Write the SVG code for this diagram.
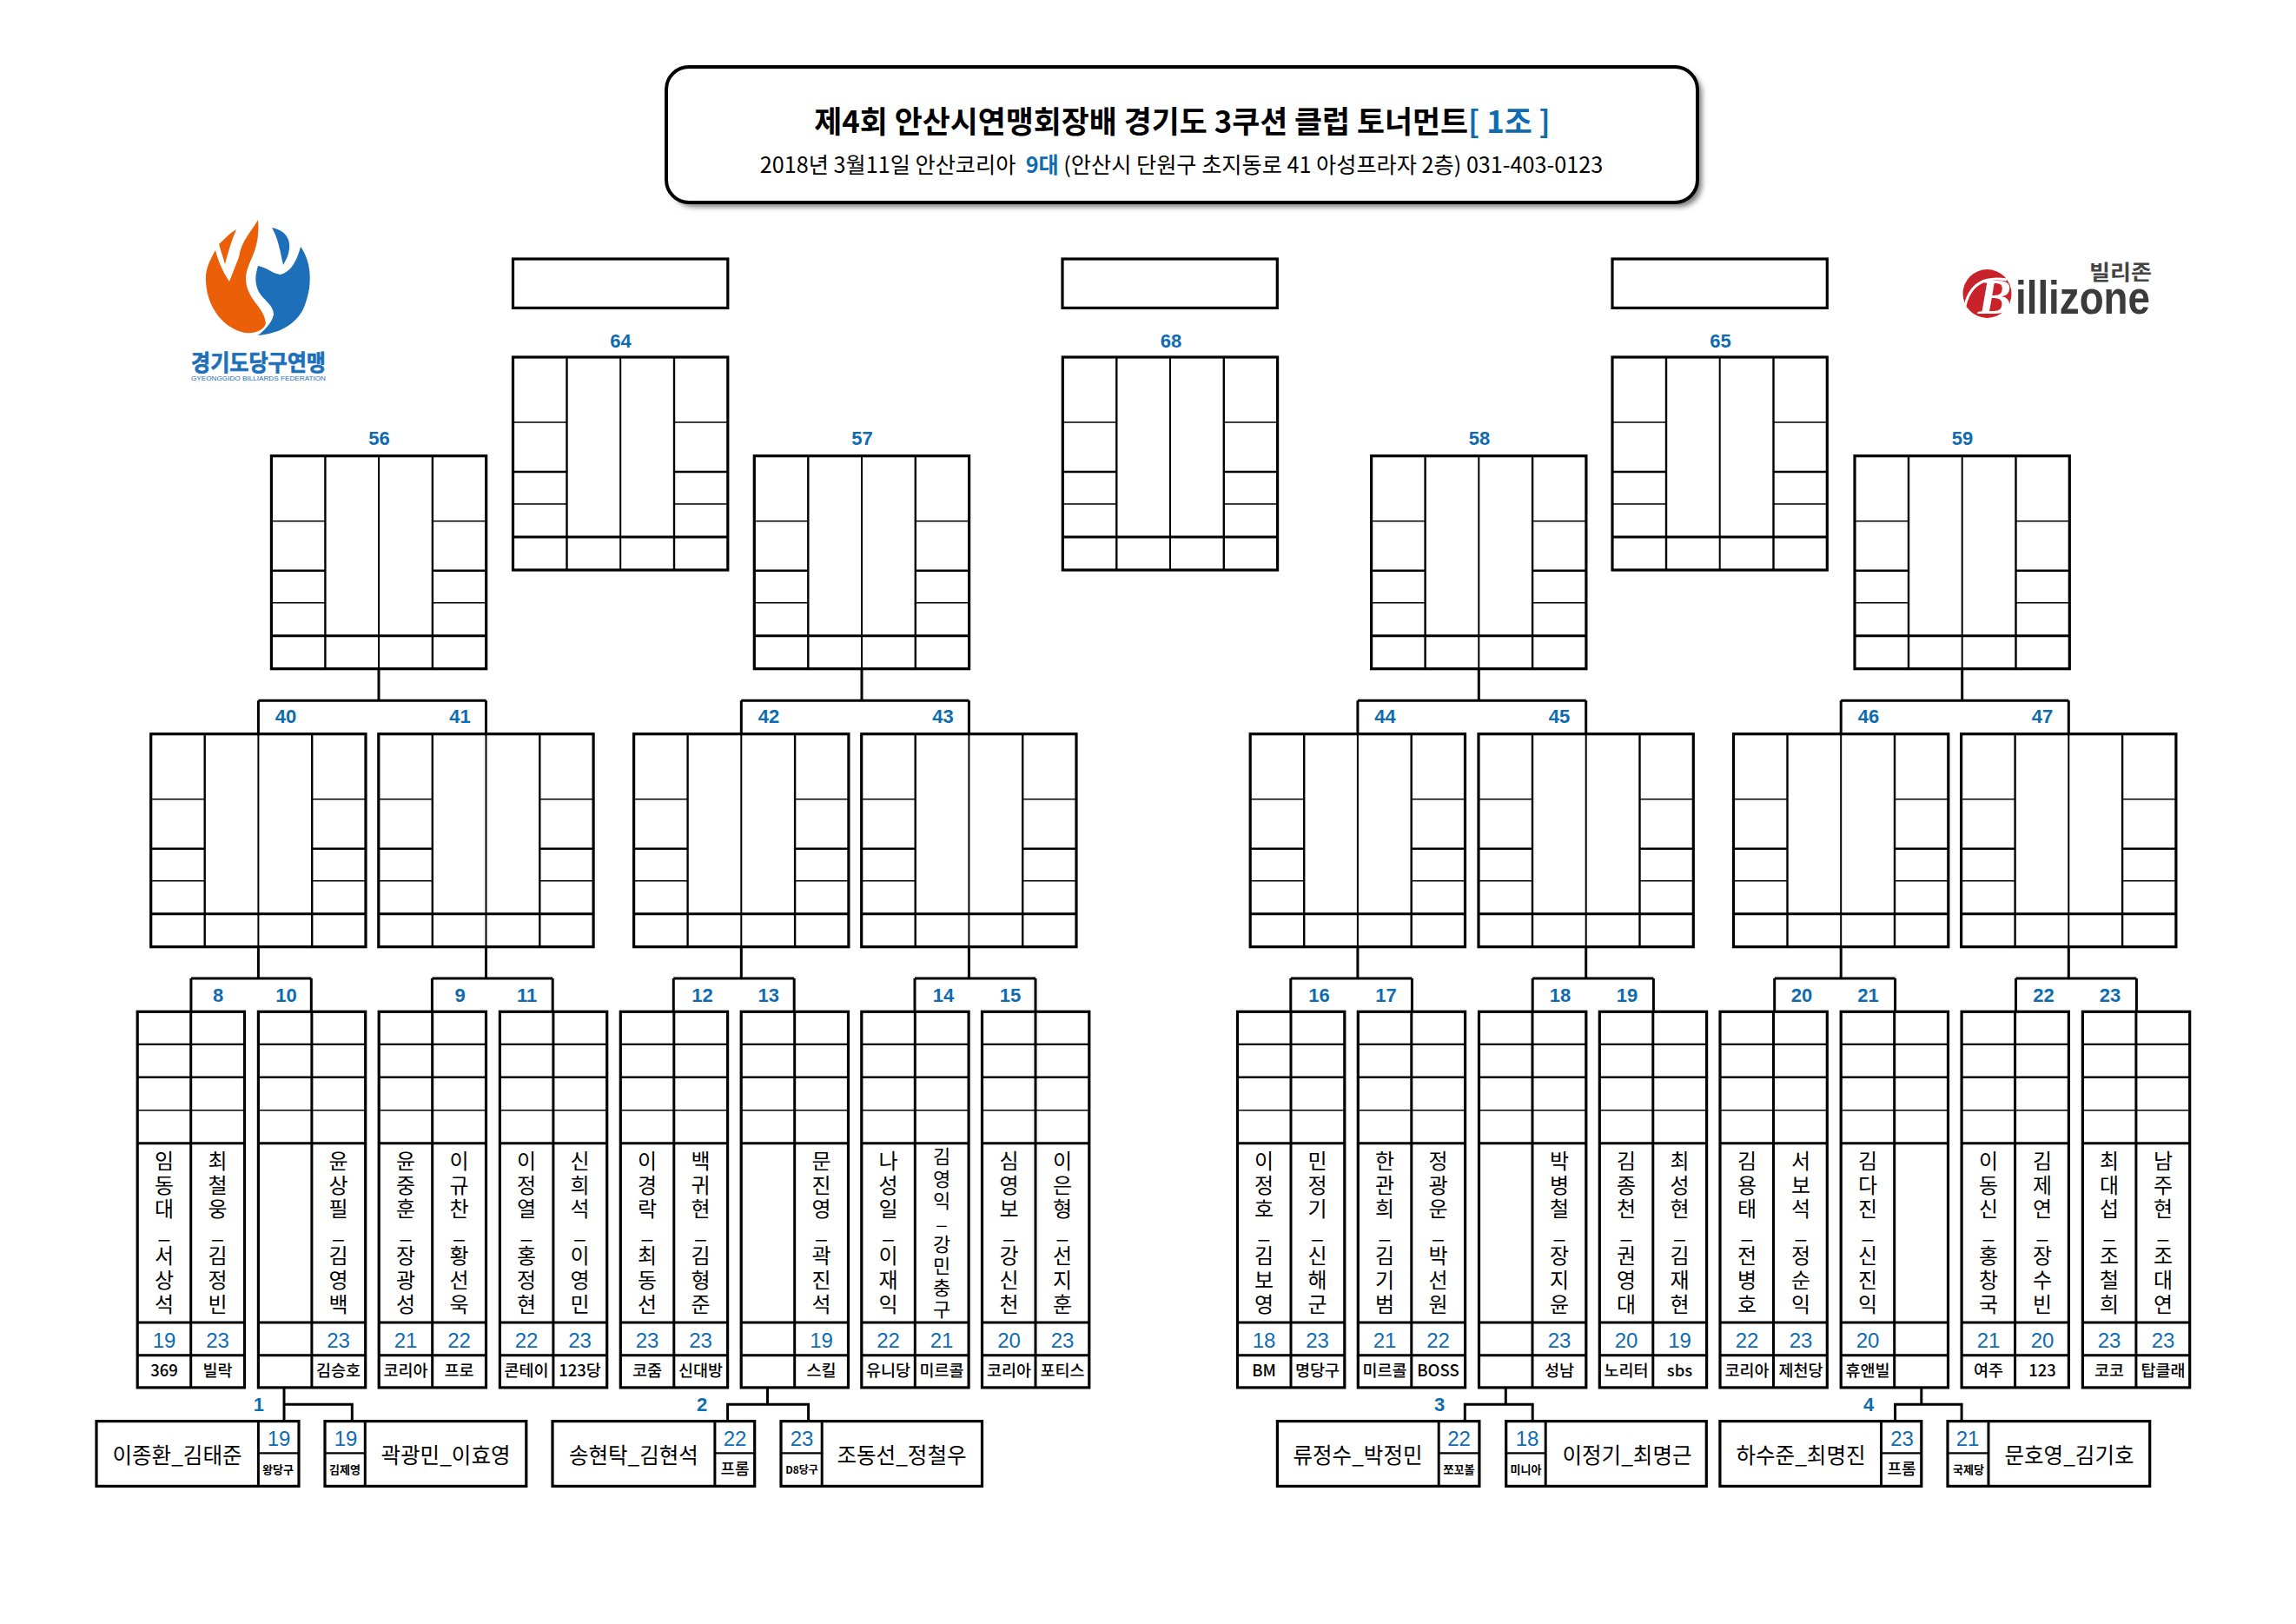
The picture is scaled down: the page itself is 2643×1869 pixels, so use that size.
<svg xmlns="http://www.w3.org/2000/svg" xmlns:xlink="http://www.w3.org/1999/xlink" width="2643" height="1869" viewBox="0 0 2643 1869">
<style>
text{font-family:"Liberation Sans","Noto Sans CJK KR",sans-serif;fill:#000}
.k{font-family:"Noto Sans CJK KR","Liberation Sans",sans-serif}
.f{fill:#fff;stroke:#000;stroke-width:3.2}
.l3{stroke:#000;stroke-width:3;fill:none}
.l2{stroke:#000;stroke-width:2.4;fill:none}
.l1{stroke:#000;stroke-width:1.5;fill:none}
.lc{stroke:#000;stroke-width:2;fill:none}
.c{stroke:#000;stroke-width:3;fill:none}
.no{fill:#0f6cb0;font-size:22px;font-weight:700;text-anchor:middle}
.sc{fill:#0f6cb0;font-size:24px;text-anchor:middle}
.nm{font-size:24px;text-anchor:middle}
.cl{font-size:18.5px;font-weight:500;text-anchor:middle}
.fn{font-size:24.5px;text-anchor:middle}
.fc{font-size:13px;font-weight:700;text-anchor:middle}
.fp{font-size:18px;font-weight:500;text-anchor:middle}
</style>
<defs>
<filter id="bl" x="-5%" y="-10%" width="110%" height="120%"><feGaussianBlur stdDeviation="3"/></filter>
<g id="big">
<rect class="f" x="0" y="0" width="247.3" height="245"/>
<path class="l2" d="M62 0V245M185.5 0V245"/>
<path class="lc" d="M123.7 0V245"/>
<path class="l1" d="M0 75H62M185.5 75H247.3M0 169H62M185.5 169H247.3"/>
<path class="l2" d="M0 132H62M185.5 132H247.3"/>
<path class="l3" d="M0 207H247.3"/>
</g>
<g id="pair">
<rect class="f" x="0" y="0" width="123.3" height="432.6"/>
<path class="l3" d="M61.5 0V432.6"/>
<path class="l2" d="M0 37.6H123.3M0 75.5H123.3"/>
<path class="l1" d="M0 113.5H123.3"/>
<path class="l3" d="M0 151.4H123.3M0 357.8H123.3M0 395.4H123.3"/>
</g>
</defs>
<rect width="2643" height="1869" fill="#fff"/>

<g id="header">
<rect x="773" y="82" width="1186" height="156" rx="26" fill="#777" filter="url(#bl)"/>
<rect x="767" y="77" width="1187" height="156" rx="26" fill="#fff" stroke="#000" stroke-width="4"/>
<text class="k" x="1361" y="153" text-anchor="middle" font-size="34.8" font-weight="700">제4회 안산시연맹회장배 경기도 3쿠션 클럽 토너먼트<tspan fill="#0f6cb0">[ 1조 ]</tspan></text>
<text class="k" x="1360" y="199" text-anchor="middle" font-size="25.2">2018년 3월11일 안산코리아&#160;&#160;<tspan fill="#0f6cb0" font-weight="700">9대</tspan> (안산시 단원구 초지동로 41 아성프라자 2층) 031-403-0123</text>
</g>

<g id="logo-left">
<path fill="#ea5f08" d="M297 253C290 266 278 276 275 296L264 324C256 312 251 300 248 288C240 302 236 312 237 324C238 352 256 378 282 383C294 384 304 380 306 372C304 352 283 345 283 320C284 300 300 290 297 253Z"/>
<path fill="#ea5f08" d="M272 264C262 270 256 278 252 281L259 304C262 292 266 278 272 264Z"/>
<path fill="#1c6fb8" d="M313 262C322 264 331 268 333 280C334 290 330 298 326 305C323 292 321 276 313 262Z"/>
<path fill="#1c6fb8" d="M346 284C343 296 336 314 322 316C312 314 308 308 297 306C294 316 293 324 297 334C302 345 315 350 315 362C313 372 304 380 297 386C322 384 345 372 352 348C360 326 358 300 346 284Z"/>
<text class="k" x="220" y="427" font-size="26" font-weight="700" stroke="#1c6fb8" stroke-width="0.7" style="fill:#1c6fb8" textLength="155" lengthAdjust="spacingAndGlyphs">경기도당구연맹</text>
<text x="220" y="438" font-size="8" style="fill:#1c6fb8" textLength="155" lengthAdjust="spacingAndGlyphs">GYEONGGIDO BILLIARDS FEDERATION</text>
</g>
<g id="logo-right">
<circle cx="2287.5" cy="338" r="28" fill="#c8222a"/>
<path d="M2262 352C2268 326 2286 318 2310 322" fill="none" stroke="#fff" stroke-width="3"/>
<text x="2296" y="361" text-anchor="middle" font-size="58" font-weight="700" font-style="italic" style="font-family:'Liberation Serif',serif;fill:#fff">B</text>
<text x="2320" y="361" font-size="53" font-weight="700" style="fill:#3b3b3b" textLength="155" lengthAdjust="spacingAndGlyphs">illizone</text>
<text class="k" x="2405" y="322" font-size="24" font-weight="700" style="fill:#444" textLength="72" lengthAdjust="spacingAndGlyphs">빌리존</text>
</g>

<g id="connectors">
<path class="c" d="M436 769.6V806.3M297.4 806.3H559.5M297.4 806.3V844.7M559.5 806.3V844.7"/>
<path class="c" d="M992 769.6V806.3M853.3 806.3H1115.4M853.3 806.3V844.7M1115.4 806.3V844.7"/>
<path class="c" d="M1702.3 769.6V806.3M1562.9 806.3H1825.7M1562.9 806.3V844.7M1825.7 806.3V844.7"/>
<path class="c" d="M2258.7 769.6V806.3M2119.2 806.3H2381.3M2119.2 806.3V844.7M2381.3 806.3V844.7"/>
<path class="c" d="M297.4 1089V1126M219.9 1126H358.3M219.9 1126V1164M358.3 1126V1164"/>
<path class="c" d="M559.5 1089V1126M497.4 1126H636.2M497.4 1126V1164M636.2 1126V1164"/>
<path class="c" d="M853.3 1089V1126M775.3 1126H914.2M775.3 1126V1164M914.2 1126V1164"/>
<path class="c" d="M1115.4 1089V1126M1053 1126H1192M1053 1126V1164M1192 1126V1164"/>
<path class="c" d="M1562.9 1089V1126M1485.8 1126H1625.4M1485.8 1126V1164M1625.4 1126V1164"/>
<path class="c" d="M1825.7 1089V1126M1764.2 1126H1903.4M1764.2 1126V1164M1903.4 1126V1164"/>
<path class="c" d="M2119.2 1089V1126M2042.7 1126H2181.6M2042.7 1126V1164M2181.6 1126V1164"/>
<path class="c" d="M2381.3 1089V1126M2320.5 1126H2459.4M2320.5 1126V1164M2459.4 1126V1164"/>
<path class="c" d="M327 1597V1635.6M327 1616.2H405.3V1635.6"/>
<path class="c" d="M883.5 1597V1616.2M837.6 1635.6V1616.2H930.6V1635.6"/>
<path class="c" d="M1733.3 1597V1616.2M1686.3 1635.6V1616.2H1764.2V1635.6"/>
<path class="c" d="M2211.8 1597V1616.2M2181.6 1635.6V1616.2H2258.1V1635.6"/>
</g>

<g id="final-68"><rect class="f" x="1223" y="298" width="247.3" height="56.4"/><use xlink:href="#big" x="1223.3" y="411"/><text class="no" x="1348" y="399.5">68</text></g>
<g id="final-64"><rect class="f" x="590.5" y="298" width="247.3" height="56.4"/><use xlink:href="#big" x="590.5" y="411"/><text class="no" x="714.6" y="399.5">64</text></g>
<g id="final-65"><rect class="f" x="1856" y="298" width="247.3" height="56.4"/><use xlink:href="#big" x="1856" y="411"/><text class="no" x="1980.5" y="399.5">65</text></g>
<g id="m56"><use xlink:href="#big" x="312.4" y="524.7"/><text class="no" x="436.5" y="512.4">56</text></g>
<g id="m57"><use xlink:href="#big" x="868.3" y="524.7"/><text class="no" x="992.5" y="512.4">57</text></g>
<g id="m58"><use xlink:href="#big" x="1578.6" y="524.7"/><text class="no" x="1703" y="512.4">58</text></g>
<g id="m59"><use xlink:href="#big" x="2135" y="524.7"/><text class="no" x="2259" y="512.4">59</text></g>

<g id="m40"><use xlink:href="#big" x="173.7" y="844.7"/><text class="no" x="329" y="832">40</text></g>
<g id="m41"><use xlink:href="#big" x="435.8" y="844.7"/><text class="no" x="529.5" y="832">41</text></g>
<g id="m42"><use xlink:href="#big" x="729.6" y="844.7"/><text class="no" x="885" y="832">42</text></g>
<g id="m43"><use xlink:href="#big" x="991.7" y="844.7"/><text class="no" x="1085.5" y="832">43</text></g>
<g id="m44"><use xlink:href="#big" x="1439.2" y="844.7"/><text class="no" x="1594.6" y="832">44</text></g>
<g id="m45"><use xlink:href="#big" x="1702" y="844.7"/><text class="no" x="1795" y="832">45</text></g>
<g id="m46"><use xlink:href="#big" x="1995.5" y="844.7"/><text class="no" x="2151" y="832">46</text></g>
<g id="m47"><use xlink:href="#big" x="2257.6" y="844.7"/><text class="no" x="2351" y="832">47</text></g>

<g id="p1"><use xlink:href="#pair" x="158.2" y="1164.3"/>
<text class="nm k" x="189 189 189 189 189 189 189" y="1345 1372.7 1400.4 1425 1454 1482 1510">임동대_서상석</text><text class="nm k" x="250.5 250.5 250.5 250.5 250.5 250.5 250.5" y="1345 1372.7 1400.4 1425 1454 1482 1510">최철웅_김정빈</text>
<text class="sc" x="189" y="1551">19</text><text class="sc" x="250.5" y="1551">23</text><text class="cl k" x="189" y="1584">369</text><text class="cl k" x="250.5" y="1584">빌락</text>
<text class="no" x="251" y="1152.8">8</text></g>
<g id="p2"><use xlink:href="#pair" x="297.4" y="1164.3"/>
<text class="nm k" x="389.5 389.5 389.5 389.5 389.5 389.5 389.5" y="1345 1372.7 1400.4 1425 1454 1482 1510">윤상필_김영백</text>
<text class="sc" x="389.5" y="1551">23</text><text class="cl k" x="389.5" y="1584">김승호</text>
<text class="no" x="329.4" y="1152.8">10</text></g>
<g id="p3"><use xlink:href="#pair" x="436.2" y="1164.3"/>
<text class="nm k" x="467 467 467 467 467 467 467" y="1345 1372.7 1400.4 1425 1454 1482 1510">윤중훈_장광성</text><text class="nm k" x="528.5 528.5 528.5 528.5 528.5 528.5 528.5" y="1345 1372.7 1400.4 1425 1454 1482 1510">이규찬_황선욱</text>
<text class="sc" x="467" y="1551">21</text><text class="sc" x="528.5" y="1551">22</text><text class="cl k" x="467" y="1584">코리아</text><text class="cl k" x="528.5" y="1584">프로</text>
<text class="no" x="529.5" y="1152.8">9</text></g>
<g id="p4"><use xlink:href="#pair" x="575.4" y="1164.3"/>
<text class="nm k" x="606 606 606 606 606 606 606" y="1345 1372.7 1400.4 1425 1454 1482 1510">이정열_홍정현</text><text class="nm k" x="667.5 667.5 667.5 667.5 667.5 667.5 667.5" y="1345 1372.7 1400.4 1425 1454 1482 1510">신희석_이영민</text>
<text class="sc" x="606" y="1551">22</text><text class="sc" x="667.5" y="1551">23</text><text class="cl k" x="606" y="1584">콘테이</text><text class="cl k" x="667.5" y="1584">123당</text>
<text class="no" x="606.6" y="1152.8">11</text></g>
<g id="p5"><use xlink:href="#pair" x="714.3" y="1164.3"/>
<text class="nm k" x="745 745 745 745 745 745 745" y="1345 1372.7 1400.4 1425 1454 1482 1510">이경락_최동선</text><text class="nm k" x="806.5 806.5 806.5 806.5 806.5 806.5 806.5" y="1345 1372.7 1400.4 1425 1454 1482 1510">백귀현_김형준</text>
<text class="sc" x="745" y="1551">23</text><text class="sc" x="806.5" y="1551">23</text><text class="cl k" x="745" y="1584">코줌</text><text class="cl k" x="806.5" y="1584">신대방</text>
<text class="no" x="808.5" y="1152.8">12</text></g>
<g id="p6"><use xlink:href="#pair" x="853.2" y="1164.3"/>
<text class="nm k" x="945.5 945.5 945.5 945.5 945.5 945.5 945.5" y="1345 1372.7 1400.4 1425 1454 1482 1510">문진영_곽진석</text>
<text class="sc" x="945.5" y="1551">19</text><text class="cl k" x="945.5" y="1584">스킬</text>
<text class="no" x="884.7" y="1152.8">13</text></g>
<g id="p7"><use xlink:href="#pair" x="991.8" y="1164.3"/>
<text class="nm k" x="1022.5 1022.5 1022.5 1022.5 1022.5 1022.5 1022.5" y="1345 1372.7 1400.4 1425 1454 1482 1510">나성일_이재익</text><text class="nm k" style="font-size:22px" x="1084 1084 1084 1084 1084 1084 1084 1084" y="1339 1364.5 1389.5 1409 1439.5 1464.5 1490 1515">김영익_강민충구</text>
<text class="sc" x="1022.5" y="1551">22</text><text class="sc" x="1084" y="1551">21</text><text class="cl k" x="1022.5" y="1584">유니당</text><text class="cl k" x="1084" y="1584">미르콜</text>
<text class="no" x="1086" y="1152.8">14</text></g>
<g id="p8"><use xlink:href="#pair" x="1130.5" y="1164.3"/>
<text class="nm k" x="1161.5 1161.5 1161.5 1161.5 1161.5 1161.5 1161.5" y="1345 1372.7 1400.4 1425 1454 1482 1510">심영보_강신천</text><text class="nm k" x="1223 1223 1223 1223 1223 1223 1223" y="1345 1372.7 1400.4 1425 1454 1482 1510">이은형_선지훈</text>
<text class="sc" x="1161.5" y="1551">20</text><text class="sc" x="1223" y="1551">23</text><text class="cl k" x="1161.5" y="1584">코리아</text><text class="cl k" x="1223" y="1584">포티스</text>
<text class="no" x="1163" y="1152.8">15</text></g>
<g id="p9"><use xlink:href="#pair" x="1424.5" y="1164.3"/>
<text class="nm k" x="1455 1455 1455 1455 1455 1455 1455" y="1345 1372.7 1400.4 1425 1454 1482 1510">이정호_김보영</text><text class="nm k" x="1516.5 1516.5 1516.5 1516.5 1516.5 1516.5 1516.5" y="1345 1372.7 1400.4 1425 1454 1482 1510">민정기_신해군</text>
<text class="sc" x="1455" y="1551">18</text><text class="sc" x="1516.5" y="1551">23</text><text class="cl k" x="1455" y="1584">BM</text><text class="cl k" x="1516.5" y="1584">명당구</text>
<text class="no" x="1518.5" y="1152.8">16</text></g>
<g id="p10"><use xlink:href="#pair" x="1563.3" y="1164.3"/>
<text class="nm k" x="1594 1594 1594 1594 1594 1594 1594" y="1345 1372.7 1400.4 1425 1454 1482 1510">한관희_김기범</text><text class="nm k" x="1655.5 1655.5 1655.5 1655.5 1655.5 1655.5 1655.5" y="1345 1372.7 1400.4 1425 1454 1482 1510">정광운_박선원</text>
<text class="sc" x="1594" y="1551">21</text><text class="sc" x="1655.5" y="1551">22</text><text class="cl k" x="1594" y="1584">미르콜</text><text class="cl k" x="1655.5" y="1584">BOSS</text>
<text class="no" x="1595.5" y="1152.8">17</text></g>
<g id="p11"><use xlink:href="#pair" x="1702.5" y="1164.3"/>
<text class="nm k" x="1795 1795 1795 1795 1795 1795 1795" y="1345 1372.7 1400.4 1425 1454 1482 1510">박병철_장지윤</text>
<text class="sc" x="1795" y="1551">23</text><text class="cl k" x="1795" y="1584">성남</text>
<text class="no" x="1796" y="1152.8">18</text></g>
<g id="p12"><use xlink:href="#pair" x="1841.3" y="1164.3"/>
<text class="nm k" x="1872 1872 1872 1872 1872 1872 1872" y="1345 1372.7 1400.4 1425 1454 1482 1510">김종천_권영대</text><text class="nm k" x="1933.5 1933.5 1933.5 1933.5 1933.5 1933.5 1933.5" y="1345 1372.7 1400.4 1425 1454 1482 1510">최성현_김재현</text>
<text class="sc" x="1872" y="1551">20</text><text class="sc" x="1933.5" y="1551">19</text><text class="cl k" x="1872" y="1584">노리터</text><text class="cl k" x="1933.5" y="1584">sbs</text>
<text class="no" x="1873" y="1152.8">19</text></g>
<g id="p13"><use xlink:href="#pair" x="1980" y="1164.3"/>
<text class="nm k" x="2011 2011 2011 2011 2011 2011 2011" y="1345 1372.7 1400.4 1425 1454 1482 1510">김용태_전병호</text><text class="nm k" x="2073 2073 2073 2073 2073 2073 2073" y="1345 1372.7 1400.4 1425 1454 1482 1510">서보석_정순익</text>
<text class="sc" x="2011" y="1551">22</text><text class="sc" x="2073" y="1551">23</text><text class="cl k" x="2011" y="1584">코리아</text><text class="cl k" x="2073" y="1584">제천당</text>
<text class="no" x="2074" y="1152.8">20</text></g>
<g id="p14"><use xlink:href="#pair" x="2119.2" y="1164.3"/>
<text class="nm k" x="2150 2150 2150 2150 2150 2150 2150" y="1345 1372.7 1400.4 1425 1454 1482 1510">김다진_신진익</text>
<text class="sc" x="2150" y="1551">20</text><text class="cl k" x="2150" y="1584">휴앤빌</text>
<text class="no" x="2150.5" y="1152.8">21</text></g>
<g id="p15"><use xlink:href="#pair" x="2258.1" y="1164.3"/>
<text class="nm k" x="2289 2289 2289 2289 2289 2289 2289" y="1345 1372.7 1400.4 1425 1454 1482 1510">이동신_홍창국</text><text class="nm k" x="2351 2351 2351 2351 2351 2351 2351" y="1345 1372.7 1400.4 1425 1454 1482 1510">김제연_장수빈</text>
<text class="sc" x="2289" y="1551">21</text><text class="sc" x="2351" y="1551">20</text><text class="cl k" x="2289" y="1584">여주</text><text class="cl k" x="2351" y="1584">123</text>
<text class="no" x="2352.5" y="1152.8">22</text></g>
<g id="p16"><use xlink:href="#pair" x="2397.4" y="1164.3"/>
<text class="nm k" x="2428 2428 2428 2428 2428 2428 2428" y="1345 1372.7 1400.4 1425 1454 1482 1510">최대섭_조철희</text><text class="nm k" x="2490 2490 2490 2490 2490 2490 2490" y="1345 1372.7 1400.4 1425 1454 1482 1510">남주현_조대연</text>
<text class="sc" x="2428" y="1551">23</text><text class="sc" x="2490" y="1551">23</text><text class="cl k" x="2428" y="1584">코코</text><text class="cl k" x="2490" y="1584">탑클래</text>
<text class="no" x="2429" y="1152.8">23</text></g>

<g id="q1"><rect class="f" x="111" y="1635.6" width="233" height="74.8"/><path class="l3" d="M297.4 1635.6V1710.4"/><path class="l2" d="M297.4 1672.4H344"/>
<text class="fn k" x="204" y="1684">이종환_김태준</text><text class="sc" x="321" y="1663.7">19</text><text class="fc k" x="320" y="1696">왕당구</text><text class="no" x="297.8" y="1624">1</text></g>
<g id="q2"><rect class="f" x="374" y="1635.6" width="231.8" height="74.8"/><path class="l3" d="M420.3 1635.6V1710.4"/><path class="l2" d="M374 1672.4H420.3"/>
<text class="fn k" x="513" y="1684">곽광민_이효영</text><text class="sc" x="398" y="1663.7">19</text><text class="fc k" x="397" y="1696">김제영</text></g>
<g id="q3"><rect class="f" x="636" y="1635.6" width="232.7" height="74.8"/><path class="l3" d="M822.9 1635.6V1710.4"/><path class="l2" d="M822.9 1672.4H868.7"/>
<text class="fn k" x="729.4" y="1684">송현탁_김현석</text><text class="sc" x="846" y="1663.7">22</text><text class="fp k" x="846" y="1697">프롬</text><text class="no" x="808" y="1624">2</text></g>
<g id="q4"><rect class="f" x="899" y="1635.6" width="231.5" height="74.8"/><path class="l3" d="M946.2 1635.6V1710.4"/><path class="l2" d="M899 1672.4H946.2"/>
<text class="fn k" x="1038" y="1684">조동선_정철우</text><text class="sc" x="923" y="1663.7">23</text><text class="fc k" style="font-size:12px" x="923" y="1695.5">D8당구</text></g>
<g id="q5"><rect class="f" x="1470.4" y="1635.6" width="232.5" height="74.8"/><path class="l3" d="M1656.2 1635.6V1710.4"/><path class="l2" d="M1656.2 1672.4H1702.9"/>
<text class="fn k" x="1563" y="1684">류정수_박정민</text><text class="sc" x="1679.5" y="1663.7">22</text><text class="fc k" x="1679.5" y="1696">쪼꼬볼</text><text class="no" x="1657" y="1624">3</text></g>
<g id="q6"><rect class="f" x="1733.7" y="1635.6" width="230.6" height="74.8"/><path class="l3" d="M1779.2 1635.6V1710.4"/><path class="l2" d="M1733.7 1672.4H1779.2"/>
<text class="fn k" x="1873" y="1684">이정기_최명근</text><text class="sc" x="1758" y="1663.7">18</text><text class="fc k" x="1756.5" y="1696">미니아</text></g>
<g id="q7"><rect class="f" x="1979.9" y="1635.6" width="231.9" height="74.8"/><path class="l3" d="M2165.5 1635.6V1710.4"/><path class="l2" d="M2165.5 1672.4H2211.8"/>
<text class="fn k" x="2073" y="1684">하수준_최명진</text><text class="sc" x="2189.5" y="1663.7">23</text><text class="fp k" x="2189" y="1697">프롬</text><text class="no" x="2151" y="1624">4</text></g>
<g id="q8"><rect class="f" x="2242" y="1635.6" width="232.7" height="74.8"/><path class="l3" d="M2289 1635.6V1710.4"/><path class="l2" d="M2242 1672.4H2289"/>
<text class="fn k" x="2382" y="1684">문호영_김기호</text><text class="sc" x="2265" y="1663.7">21</text><text class="fc k" x="2266" y="1696">국제당</text></g>
</svg>
